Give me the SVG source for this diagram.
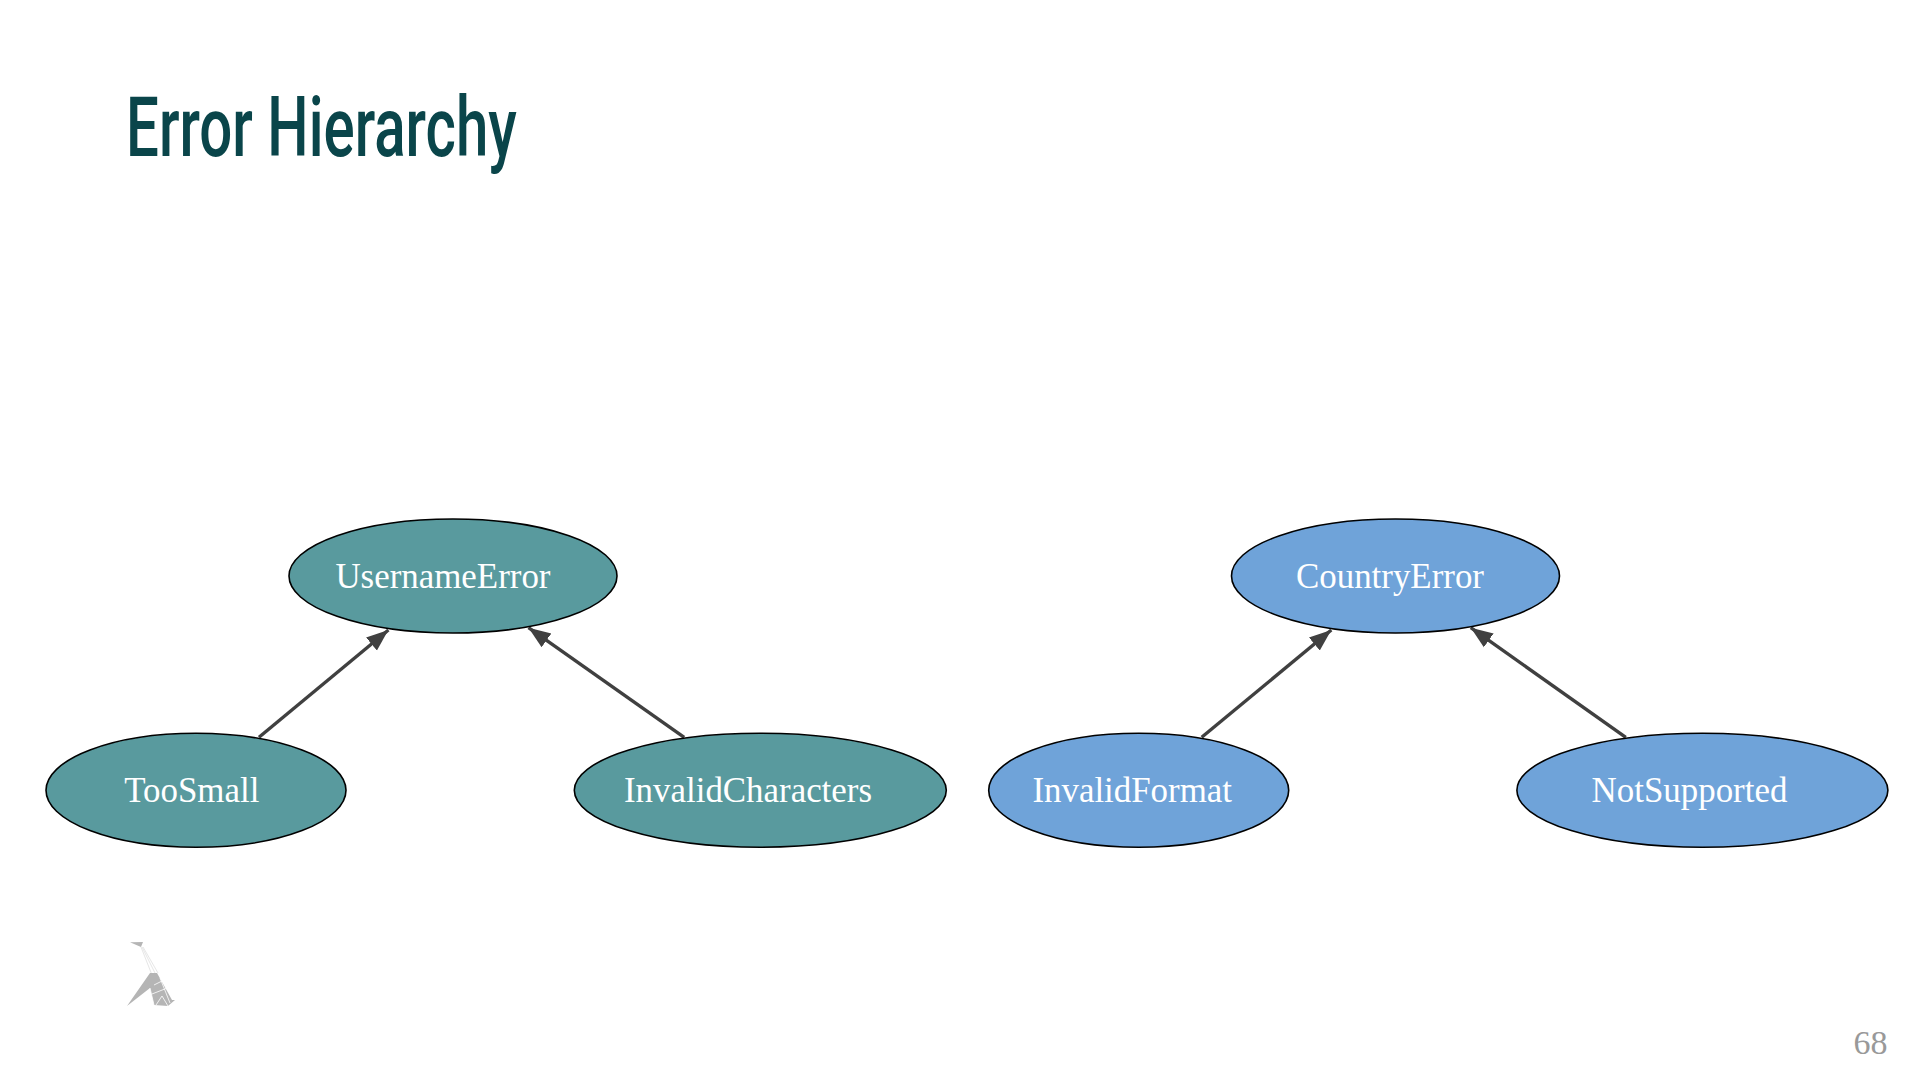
<svg xmlns="http://www.w3.org/2000/svg" width="1920" height="1080" viewBox="0 0 1920 1080">
<defs>
<style>
.t{font-family:"Liberation Serif",serif;font-size:34.900px;fill:#fff}
.n{stroke:#000;stroke-width:1.6}
.g{fill:#599a9e}
.b{fill:#6fa3d9}
.e{stroke:#404040;stroke-width:3.4;fill:none;marker-end:url(#a)}
</style>
<marker id="a" markerUnits="userSpaceOnUse" markerWidth="24" markerHeight="20" refX="22" refY="10" orient="auto"><path d="M0 1.500L22 10L0 18.500Z" fill="#404040"/></marker>
</defs>
<rect width="1920" height="1080" fill="#fff"/>
<text id="title" transform="translate(126,156) scale(0.693,1)" font-family="Roboto,sans-serif" font-weight="500" font-size="84" fill="#0a454a">Error Hierarchy</text>
<g id="connectors">
<path class="e" d="M259 737.300L388.400 630"/>
<path class="e" d="M684.200 737.300L528.500 627.700"/>
<path class="e" d="M1201.700 737.300L1331.300 630"/>
<path class="e" d="M1625.800 737.300L1470.800 627.700"/>
</g>
<g id="UsernameError"><ellipse class="n g" cx="453" cy="576" rx="164" ry="57"/><text class="t" x="335.400" y="588">UsernameError</text></g>
<g id="TooSmall"><ellipse class="n g" cx="196" cy="790.300" rx="150" ry="57"/><text class="t" x="124.200" y="802">TooSmall</text></g>
<g id="InvalidCharacters"><ellipse class="n g" cx="760.300" cy="790.300" rx="186" ry="57"/><text class="t" x="624" y="802">InvalidCharacters</text></g>
<g id="CountryError"><ellipse class="n b" cx="1395.500" cy="576" rx="164" ry="57"/><text class="t" x="1296" y="588">CountryError</text></g>
<g id="InvalidFormat"><ellipse class="n b" cx="1138.700" cy="790.300" rx="150" ry="57"/><text class="t" x="1032.400" y="802">InvalidFormat</text></g>
<g id="NotSupported"><ellipse class="n b" cx="1702.400" cy="790.300" rx="185.500" ry="57"/><text class="t" x="1591.600" y="802">NotSupported</text></g>
<g id="logo">
<path d="M130 942.300L143 942L141 947Z" fill="#b5b5b5"/>
<path d="M142 947L155 973M143 947L158 973M141 947L152 975" stroke="#e6e6e6" stroke-width="1" fill="none"/>
<path d="M150 973L157 973L172 1000L175 1000L168 1006L154 1005L150 988L127 1006Z" fill="#b5b5b5"/>
<path d="M150 988L154 1005M154 985L168 978M152 994L175 985M156 1005L162 996L168 1006M160 978L170 1003" stroke="#fff" stroke-width="0.800" fill="none"/>
</g>
<text id="page" x="1853.500" y="1054" font-family="Liberation Serif,serif" font-size="34" fill="#999">68</text>
</svg>
